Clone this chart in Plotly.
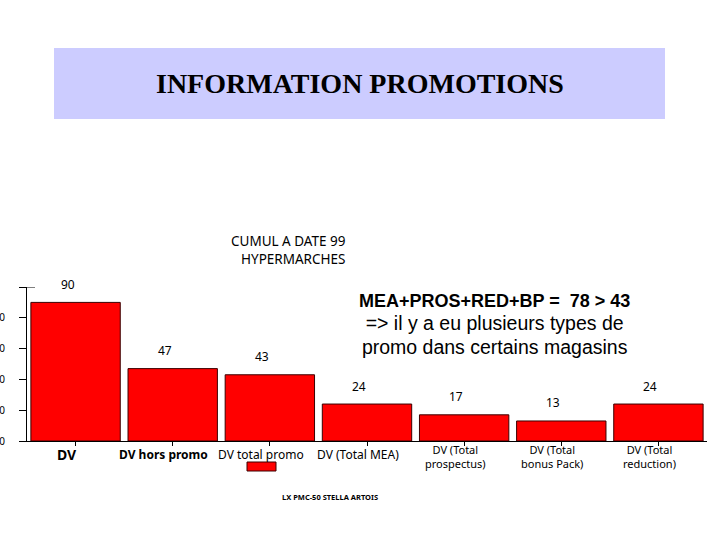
import plotly.graph_objects as go

categories = ["DV", "DV hors promo", "DV total promo", "DV (Total MEA)",
              "DV (Total prospectus)", "DV (Total bonus Pack)", "DV (Total reduction)"]
label_line1 = ["<b>DV</b>", "<b>DV hors promo</b>", "DV total promo", "DV (Total MEA)",
               "DV (Total", "DV (Total", "DV (Total"]
label_line2 = ["", "", "", "", "prospectus)", "bonus Pack)", "reduction)"]
values = [90, 47, 43, 24, 17, 13, 24]
y_ticks = [0, 20, 40, 60, 80, 100]
y_tick_text = ["0", "20", "40", "60", "80", ""]

W, H = 720, 540
L, R, T, B = 27, 13, 287, 99
PW, PH = W - L - R, H - T - B


def px(p):
    return (p - L) / PW


def py(p):
    return (H - B - p) / PH


COMIC = "Comic Sans MS, Noto Sans, sans-serif"

fig = go.Figure()
fig.add_trace(go.Bar(
    x=categories, y=values,
    marker=dict(color="#FF0000", line=dict(color="#3a0000", width=1)),
    width=0.92, showlegend=False, hoverinfo="skip",
))

annotations = []
for c, v in zip(categories, values):
    annotations.append(dict(x=c, y=v, xref="x", yref="y", text=str(v), showarrow=False,
                            xanchor="center", yanchor="middle",
                            xshift=-8, yshift=18, font=dict(family=COMIC, size=12, color="#000")))

for c, l1, l2 in zip(categories, label_line1, label_line2):
    if l2:
        annotations.append(dict(x=c, y=py(456), xref="x", yref="paper", text=l1 + "<br>" + l2,
                                showarrow=False, xanchor="center", yanchor="middle", xshift=-9,
                                font=dict(family=COMIC, size=11, color="#000")))
    else:
        annotations.append(dict(x=c, y=py(454), xref="x", yref="paper", text=l1, showarrow=False,
                                xanchor="center", yanchor="middle", xshift=-9,
                                font=dict(family=COMIC, size=14 if c == "DV" else 12, color="#000")))

annotations += [
    dict(x=px(360), y=py(84), xref="paper", yref="paper", text="<b>INFORMATION PROMOTIONS</b>",
         xanchor="center", yanchor="middle", showarrow=False,
         font=dict(family="Liberation Serif, Times New Roman, serif", size=28, color="#000")),
    dict(x=px(348), y=py(250), xref="paper", yref="paper", xanchor="right", yanchor="middle",
         text="CUMUL A DATE 99<br>HYPERMARCHES", align="right", showarrow=False,
         font=dict(family=COMIC, size=13.5, color="#000")),
    dict(x=px(494), y=py(324), xref="paper", yref="paper", xanchor="center", yanchor="middle",
         text="<b>MEA+PROS+RED+BP =  78 > 43</b><br>"
              "<span style='font-size:19.5px'>=> il y a eu plusieurs types de</span><br>"
              "<span style='font-size:19.5px'>promo dans certains magasins</span>",
         align="center", showarrow=False,
         font=dict(family="Liberation Sans, Arial, sans-serif", size=18, color="#000")),
    dict(x=px(330), y=py(497), xref="paper", yref="paper", xanchor="center", yanchor="middle",
         text="<b>LX PMC-50 STELLA ARTOIS</b>",
         showarrow=False, font=dict(family=COMIC, size=7.5, color="#000")),
]

shapes = [
    dict(type="rect", xref="paper", yref="paper", x0=px(54), x1=px(665), y0=py(119), y1=py(48),
         fillcolor="#CCCCFF", line=dict(width=0), layer="below"),
    dict(type="rect", xref="paper", yref="paper", x0=px(247), x1=px(276), y0=py(471), y1=py(462),
         fillcolor="#FF0000", line=dict(color="#3a0000", width=1)),
    dict(type="line", xref="paper", yref="y", x0=px(20), x1=px(35), y0=100, y1=100,
         line=dict(color="#000", width=1)),
]

fig.update_layout(
    width=W, height=H,
    margin=dict(l=L, r=R, t=T, b=B, pad=0, autoexpand=False),
    paper_bgcolor="white", plot_bgcolor="white",
    bargap=0.08,
    annotations=annotations, shapes=shapes,
    xaxis=dict(tickmode="array", tickvals=categories, showticklabels=False,
               showgrid=False, showline=True, linecolor="#000", linewidth=1,
               ticks="outside", ticklen=4, tickcolor="#000", automargin=False,
               range=[-0.5, 6.5], fixedrange=True),
    yaxis=dict(range=[0, 100], tickmode="array", tickvals=y_ticks, ticktext=y_tick_text,
               showgrid=False, zeroline=False, showline=True, linecolor="#000", linewidth=1,
               ticks="outside", ticklen=7, tickcolor="#000", automargin=False,
               tickfont=dict(family=COMIC, size=10, color="#000"), ticklabelstandoff=12,
               fixedrange=True),
)

fig.write_html("out.html", config={"displayModeBar": False},
               post_script="document.body.style.margin='0';")
